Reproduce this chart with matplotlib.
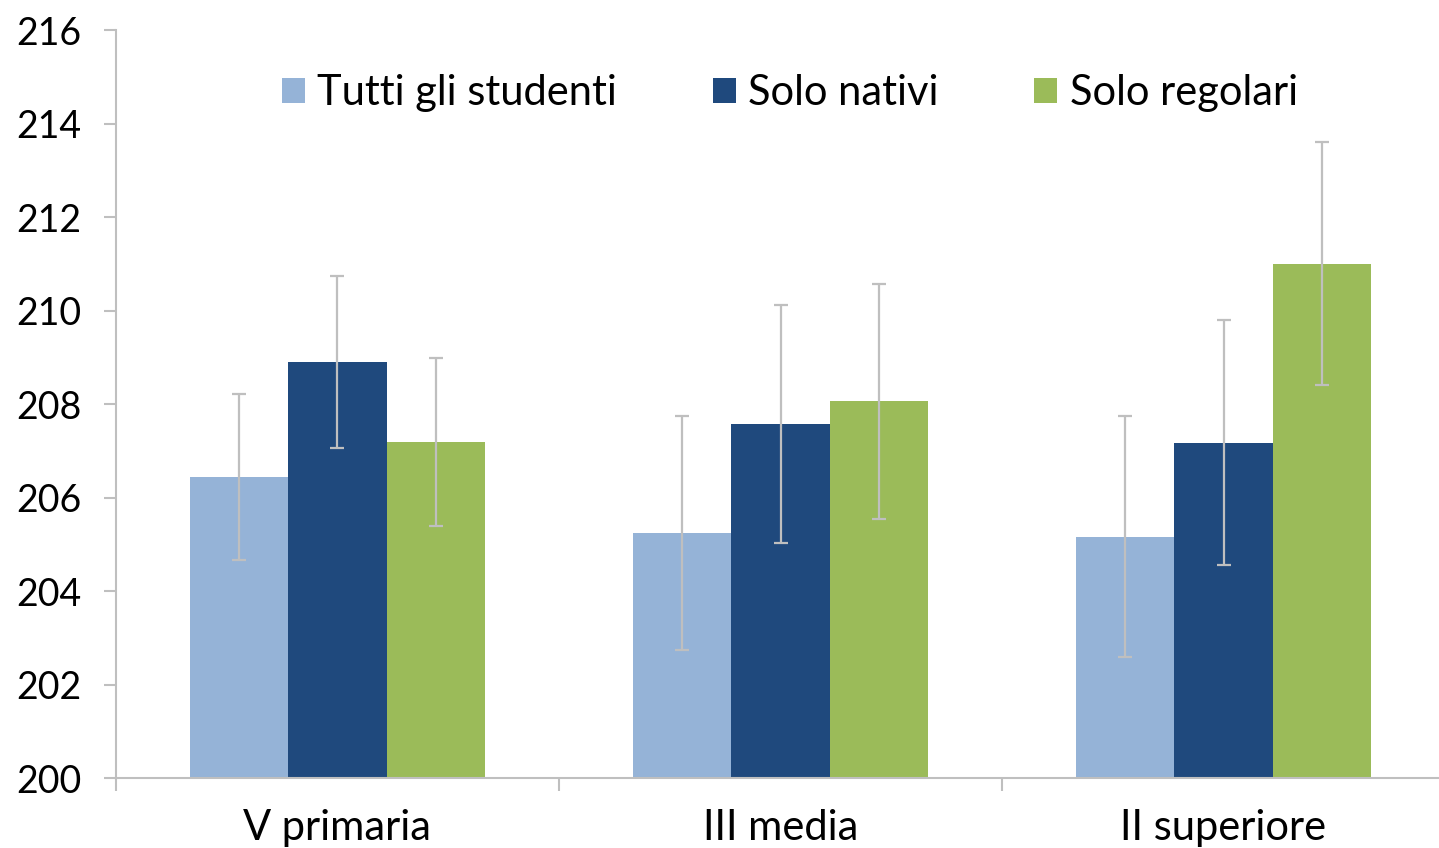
import matplotlib
matplotlib.use('Agg')
import matplotlib.pyplot as plt
import numpy as np

plt.rcParams['font.family'] = ['Lato', 'DejaVu Sans']

categories = ['V primaria', 'III media', 'II superiore']
series_names = ['Tutti gli studenti', 'Solo nativi', 'Solo regolari']
tutti = [206.44, 205.24, 205.16]
nativi = [208.90, 207.57, 207.17]
regolari = [207.19, 208.06, 211.00]
err_tutti = [1.78, 2.51, 2.58]
err_nativi = [1.84, 2.55, 2.62]
err_regolari = [1.79, 2.51, 2.60]
colors = ['#95B3D7', '#1F497D', '#9BBB59']

fig = plt.figure(figsize=(14.39, 8.48), dpi=100)
ax = fig.add_axes([0.0806, 0.0825, 0.9236, 0.882])

x = np.arange(len(categories))
w = 0.222
values = [tutti, nativi, regolari]
errs = [err_tutti, err_nativi, err_regolari]
for i in range(3):
    ax.bar(x + (i - 1) * w, np.array(values[i]) - 200, w, bottom=200,
           color=colors[i], label=series_names[i], zorder=2)
    ax.errorbar(x + (i - 1) * w, values[i], yerr=errs[i], fmt='none',
                ecolor='#BFBFBF', elinewidth=1.6, capsize=5, capthick=1.6, zorder=3)

ax.set_xlim(-0.5, 2.5)
ax.set_ylim(200, 216)
ax.set_yticks(range(200, 217, 2))
ax.set_xticks(x)
ax.set_xticklabels(categories)
ax.set_xticks([-0.5, 0.5, 1.5, 2.5], minor=True)
ax.tick_params(axis='x', which='major', length=0, labelsize=30, pad=22)
ax.tick_params(axis='x', which='minor', length=9, width=1.5, color='#BFBFBF')
ax.tick_params(axis='y', length=9, width=1.5, color='#BFBFBF', labelsize=27, pad=16)
for s in ['top', 'right']:
    ax.spines[s].set_visible(False)
for s in ['left', 'bottom']:
    ax.spines[s].set_color('#BFBFBF')
    ax.spines[s].set_linewidth(1.5)

ax.legend(loc='center', bbox_to_anchor=(0.507, 0.916), ncol=3, frameon=False,
          fontsize=30, handlelength=0.55, handleheight=0.55, handletextpad=0.3,
          columnspacing=2.3, borderaxespad=0, borderpad=0)

fig.savefig('out.png', dpi=100)
